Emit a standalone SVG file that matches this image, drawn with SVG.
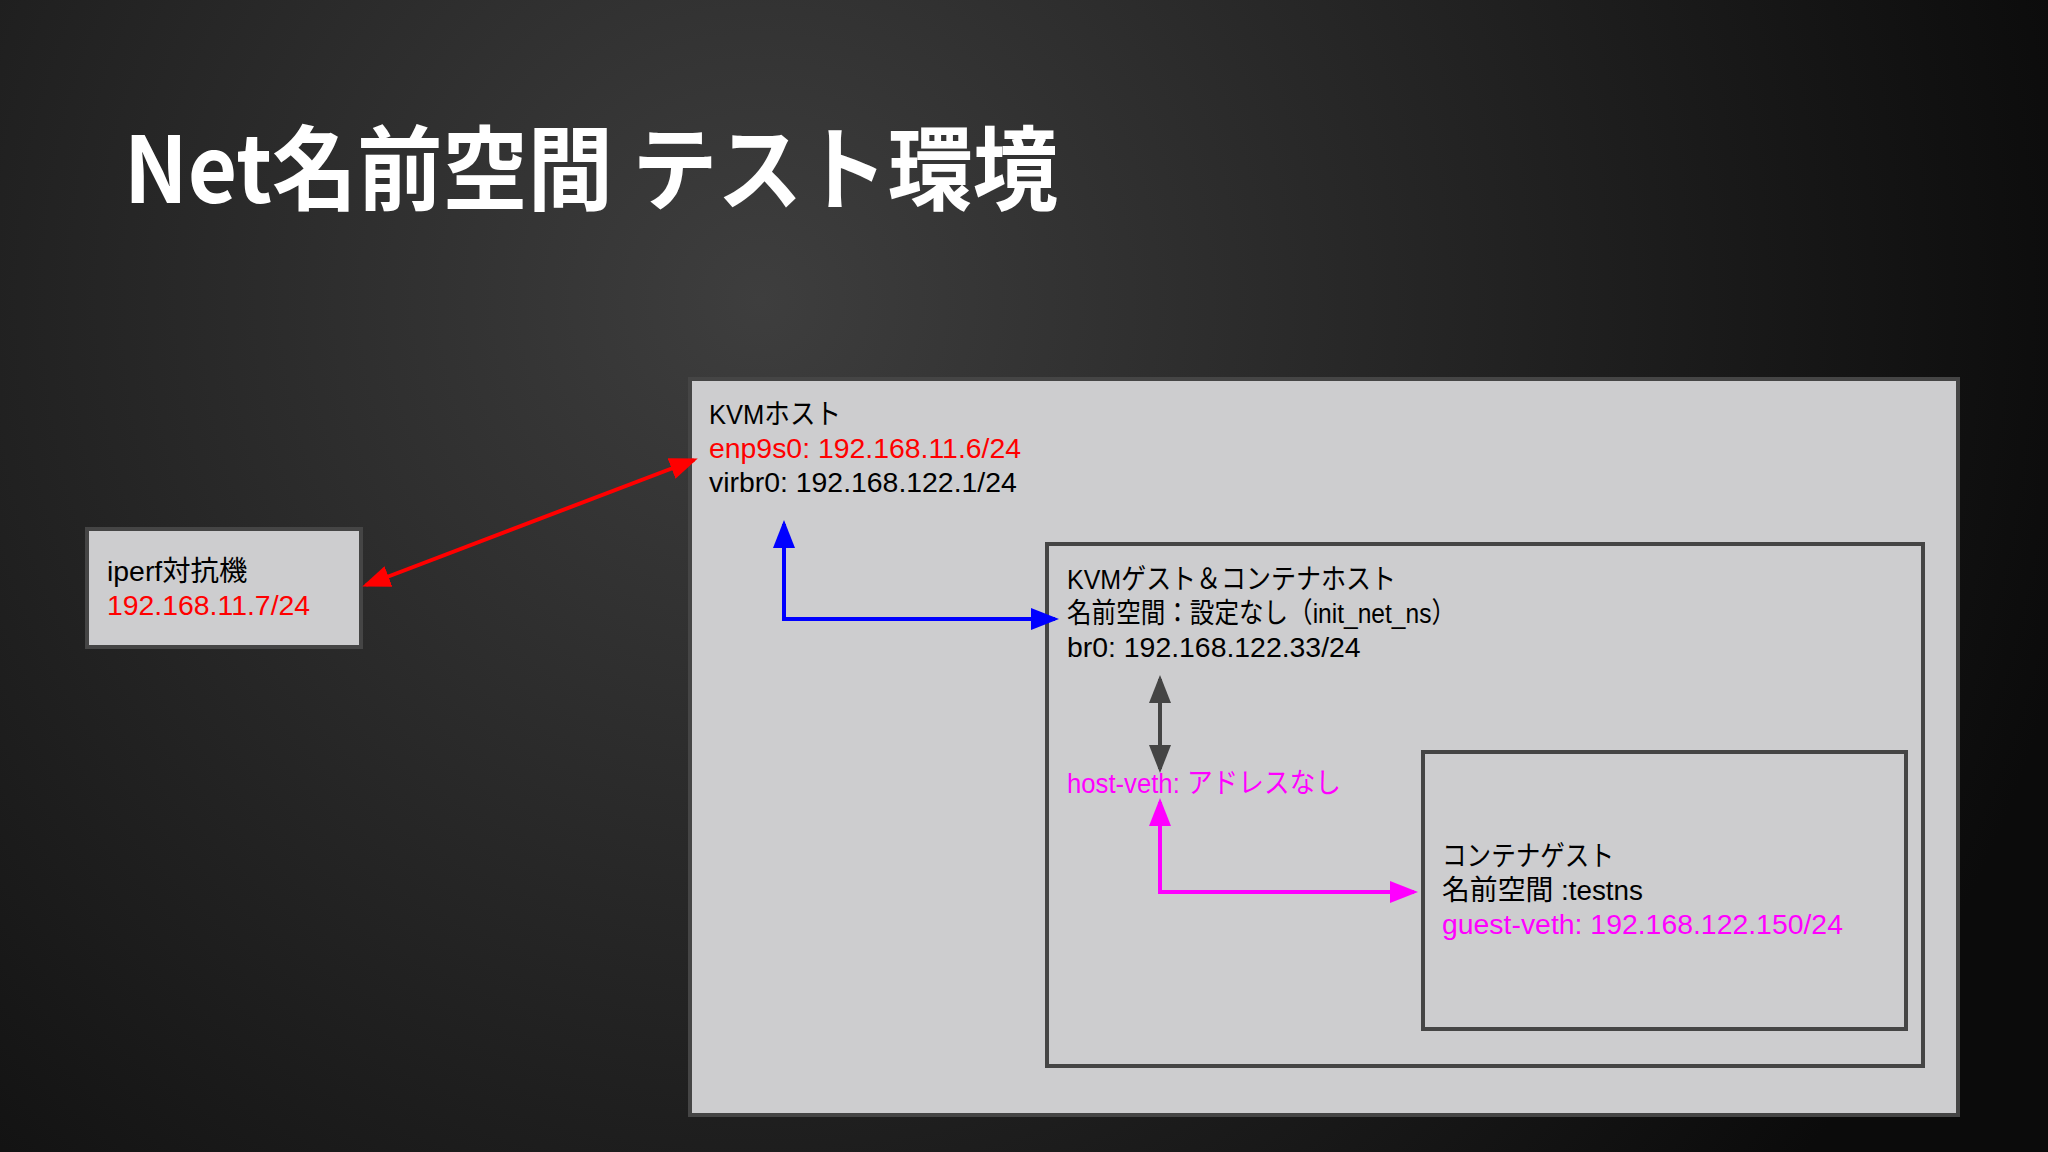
<svg xmlns="http://www.w3.org/2000/svg" width="2048" height="1152" viewBox="0 0 2048 1152">
<defs>
<radialGradient id="bg" gradientUnits="userSpaceOnUse" cx="760" cy="300" r="1350">
<stop offset="0" stop-color="#3e3e3e"/>
<stop offset="0.45" stop-color="#272727"/>
<stop offset="1" stop-color="#0b0b0b"/>
</radialGradient>
<marker id="ar-red" markerUnits="userSpaceOnUse" markerWidth="28" markerHeight="22" refX="24" refY="11" orient="auto-start-reverse"><path d="M0,0 L28,11 L0,22 z" fill="#ff0000"/></marker>
<marker id="ar-blue" markerUnits="userSpaceOnUse" markerWidth="28" markerHeight="22" refX="24" refY="11" orient="auto-start-reverse"><path d="M0,0 L28,11 L0,22 z" fill="#0000ff"/></marker>
<marker id="ar-gray" markerUnits="userSpaceOnUse" markerWidth="28" markerHeight="22" refX="24" refY="11" orient="auto-start-reverse"><path d="M0,0 L28,11 L0,22 z" fill="#444444"/></marker>
<marker id="ar-mag" markerUnits="userSpaceOnUse" markerWidth="28" markerHeight="22" refX="24" refY="11" orient="auto-start-reverse"><path d="M0,0 L28,11 L0,22 z" fill="#ff00ff"/></marker>
</defs>
<style>
.box{fill:#cdcdcf;stroke:#454545;stroke-width:4}
.t{font-family:"Liberation Sans","Noto Sans CJK JP",sans-serif;font-size:28.4px;fill:#000}
.red{fill:#ff0000}
.mag{fill:#ff00ff}
.title{font-family:"Noto Sans CJK JP","Liberation Sans",sans-serif;font-weight:bold;font-size:92px;fill:#ffffff}
.ln{fill:none;stroke-width:4}
</style>
<rect x="0" y="0" width="2048" height="1152" fill="url(#bg)"/>
<text class="title" x="124" y="203" textLength="934" lengthAdjust="spacingAndGlyphs">Net名前空間 テスト環境</text>

<g id="iperf">
<rect class="box" x="87" y="529" width="274" height="118"/>
<text class="t" x="107" y="581">iperf対抗機</text>
<text class="t red" x="107" y="615">192.168.11.7/24</text>
</g>

<g id="kvm-host">
<rect class="box" x="690" y="379" width="1268" height="736"/>
<text class="t" x="709" y="424" textLength="132" lengthAdjust="spacingAndGlyphs">KVMホスト</text>
<text class="t red" x="709" y="458">enp9s0: 192.168.11.6/24</text>
<text class="t" x="709" y="492">virbr0: 192.168.122.1/24</text>
</g>

<g id="kvm-guest">
<rect class="box" x="1047" y="544" width="876" height="522"/>
<text class="t" x="1067" y="589" textLength="329" lengthAdjust="spacingAndGlyphs">KVMゲスト＆コンテナホスト</text>
<text class="t" x="1067" y="623" textLength="389" lengthAdjust="spacingAndGlyphs">名前空間：設定なし（init_net_ns）</text>
<text class="t" x="1067" y="657">br0: 192.168.122.33/24</text>
<text class="t mag" x="1067" y="793" textLength="274" lengthAdjust="spacingAndGlyphs">host-veth: アドレスなし</text>
</g>

<g id="container-guest">
<rect class="box" x="1423" y="752" width="483" height="277"/>
<text class="t" x="1442" y="866" textLength="172" lengthAdjust="spacingAndGlyphs">コンテナゲスト</text>
<text class="t" x="1442" y="900" textLength="201" lengthAdjust="spacingAndGlyphs">名前空間 :testns</text>
<text class="t mag" x="1442" y="934">guest-veth: 192.168.122.150/24</text>
</g>

<g id="connectors">
<line class="ln" x1="366" y1="585" x2="694" y2="460" stroke="#ff0000" marker-start="url(#ar-red)" marker-end="url(#ar-red)"/>
<polyline class="ln" points="784,524 784,619 1055,619" stroke="#0000ff" marker-start="url(#ar-blue)" marker-end="url(#ar-blue)"/>
<line class="ln" x1="1160" y1="679" x2="1160" y2="769" stroke="#444444" marker-start="url(#ar-gray)" marker-end="url(#ar-gray)"/>
<polyline class="ln" points="1160,802 1160,892 1414,892" stroke="#ff00ff" marker-start="url(#ar-mag)" marker-end="url(#ar-mag)"/>
</g>
</svg>
